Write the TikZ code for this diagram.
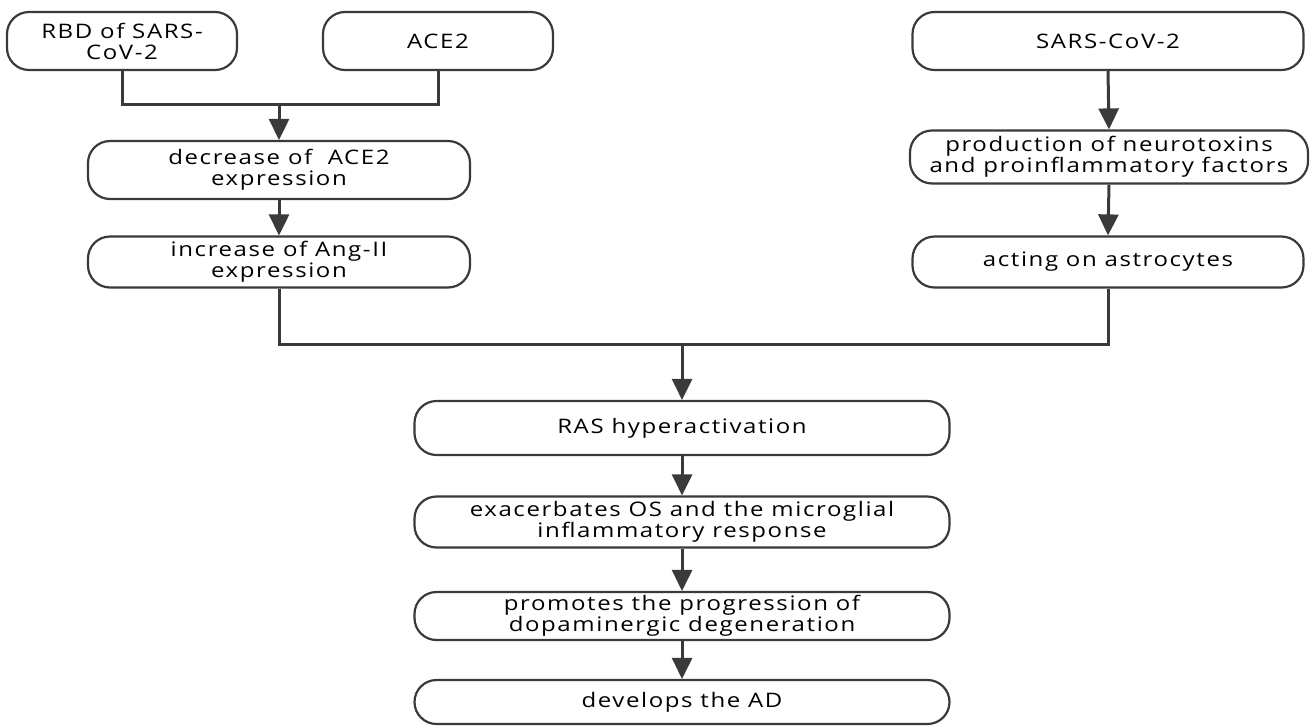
\documentclass[tikz,border=0pt]{standalone}
\usepackage{fontspec}
\setmainfont{Open Sans}[FakeStretch=1.2,LetterSpace=8]
\usetikzlibrary{arrows.meta}
\definecolor{lc}{HTML}{3A3A3A}
\begin{document}
\begin{tikzpicture}[x=1pt,y=-1pt,
  box/.style={draw=lc, line width=2.2pt, rounded corners=22pt, align=center,
    inner sep=0pt, fill=white, text=black, font=\fontsize{20}{21}\selectfont},
  conn/.style={draw=lc, line width=3pt},
  arr/.style={conn, -{Triangle[length=21pt,width=20pt]}}]
\useasboundingbox (0,0) rectangle (1312,726);
% top row
\node[box, minimum width=230, minimum height=58] (rbd) at (122,41) {RBD of SARS-\\CoV-2};
\node[box, minimum width=230, minimum height=58] (ace) at (438,41) {ACE2};
\node[box, minimum width=391, minimum height=58] (sars) at (1108,41) {SARS-CoV-2};
% left chain
\node[box, minimum width=382, minimum height=58] (dec) at (279,170) {decrease of~ ACE2\\expression};
\node[box, minimum width=382, minimum height=51] (inc) at (279,262) {increase of Ang-II\\expression};
% right chain
\node[box, minimum width=398, minimum height=53] (prod) at (1109,157) {production of neurotoxins\\and proinflammatory factors};
\node[box, minimum width=391, minimum height=51] (act) at (1108,262) {acting on astrocytes};
% bottom chain
\node[box, minimum width=535, minimum height=54] (ras) at (682,428) {RAS hyperactivation};
\node[box, minimum width=535, minimum height=51] (exa) at (682,522) {exacerbates OS and the microglial\\inflammatory response};
\node[box, minimum width=535, minimum height=48] (pro) at (682,616) {promotes the progression of\\dopaminergic degeneration};
\node[box, minimum width=535, minimum height=44] (dev) at (682,702) {develops the AD};
% junctions
\coordinate (j1) at (279,104);
\coordinate (j2) at (682,344);
\draw[conn] (rbd.south) |- (j1) -| (ace.south);
\draw[arr] (j1) -- (dec.north);
\draw[arr] (dec.south) -- (inc.north);
\draw[arr] (sars.south) -- (prod.north);
\draw[arr] (prod.south) -- (act.north);
\draw[conn] (inc.south) |- (j2) -| (act.south);
\draw[arr] (j2) -- (ras.north);
\draw[arr] (ras.south) -- (exa.north);
\draw[arr] (exa.south) -- (pro.north);
\draw[arr] (pro.south) -- (dev.north);
\end{tikzpicture}
\end{document}
